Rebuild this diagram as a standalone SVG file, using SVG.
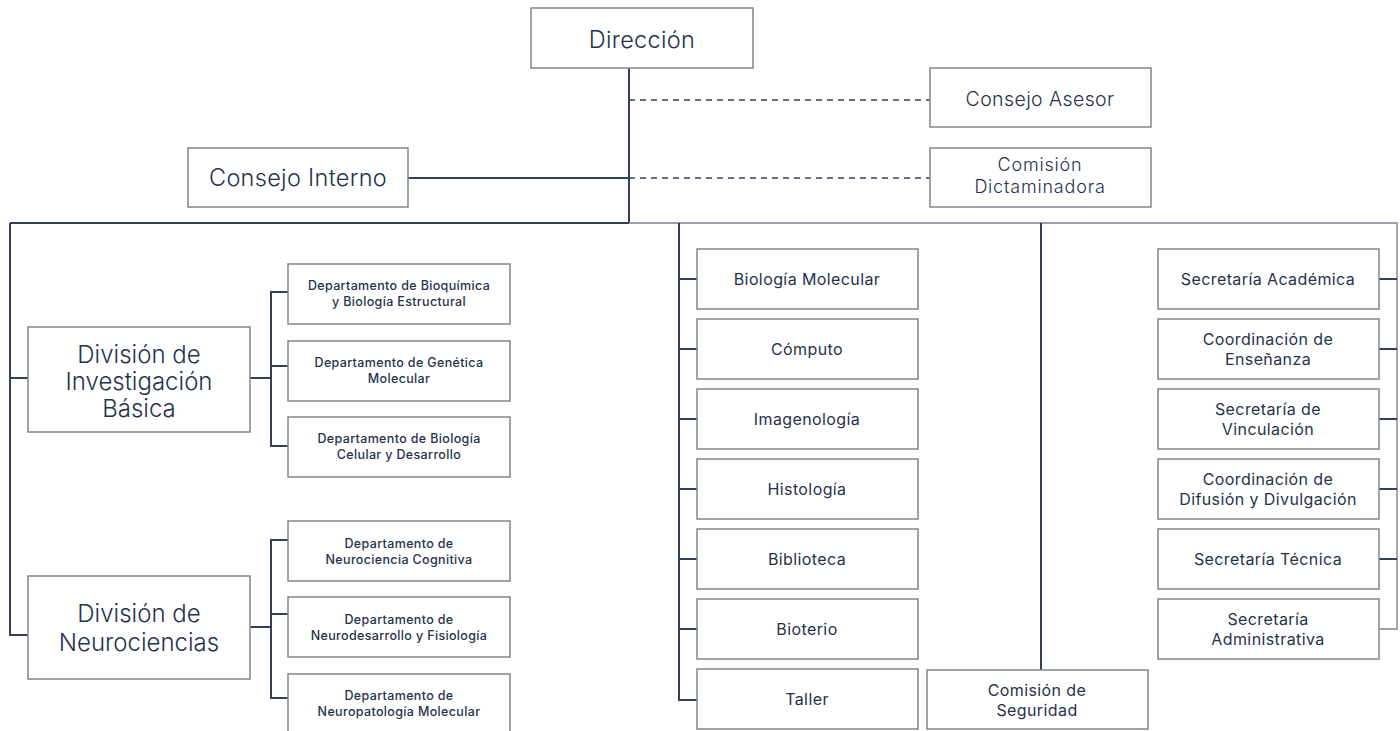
<svg xmlns="http://www.w3.org/2000/svg" width="1400" height="731" viewBox="0 0 1400 731">
<style>
.box{fill:#ffffff;stroke:#80858f;stroke-width:1.5}
.c{fill:none;stroke:#34405a;stroke-width:2}
.cl{fill:none;stroke:#9a9ea7;stroke-width:1.8}
.d{fill:none;stroke:#34405a;stroke-width:1.5;stroke-dasharray:6 5}
text{font-family:Inter,"Open Sans","Liberation Sans",sans-serif;fill:#27324a;text-anchor:middle}
.big{font-size:23.5px;font-weight:300;letter-spacing:0.3px}
.div{font-size:24px;font-weight:300}
.mid{font-size:19.5px;font-weight:300;letter-spacing:0.4px}
.mid2{font-size:18px;font-weight:300;letter-spacing:0.8px}
.sm{font-size:12.5px;font-weight:500;letter-spacing:0.35px}
.md{font-size:16px;font-weight:400;letter-spacing:0.4px}
</style>
<rect width="1400" height="731" fill="#ffffff"/>
<g id="connectors">
<line class="c" x1="629" y1="68" x2="629" y2="223"/>
<line class="d" x1="629" y1="100" x2="930" y2="100"/>
<line class="d" x1="629" y1="178" x2="930" y2="178"/>
<line class="c" x1="408" y1="178" x2="629" y2="178"/>
<line class="c" x1="10" y1="223" x2="629" y2="223"/>
<polyline class="cl" points="629,223 1397,223 1397,629 1379,629"/>
<polyline class="c" points="10,223 10,635 28,635"/>
<line class="c" x1="10" y1="378" x2="28" y2="378"/>
<line class="c" x1="250" y1="378" x2="271" y2="378"/>
<polyline class="c" points="288,292 271,292 271,446 288,446"/>
<line class="c" x1="271" y1="366" x2="288" y2="366"/>
<line class="c" x1="250" y1="627" x2="271" y2="627"/>
<polyline class="c" points="288,540 271,540 271,698 288,698"/>
<line class="c" x1="271" y1="614" x2="288" y2="614"/>
<polyline class="c" points="679,223 679,700 697,700"/>
<line class="c" x1="679" y1="279" x2="697" y2="279"/>
<line class="c" x1="679" y1="349" x2="697" y2="349"/>
<line class="c" x1="679" y1="419" x2="697" y2="419"/>
<line class="c" x1="679" y1="489" x2="697" y2="489"/>
<line class="c" x1="679" y1="559" x2="697" y2="559"/>
<line class="c" x1="679" y1="629" x2="697" y2="629"/>
<line class="c" x1="1041" y1="223" x2="1041" y2="670"/>
<line class="c" x1="1379" y1="279" x2="1397" y2="279"/>
<line class="c" x1="1379" y1="349" x2="1397" y2="349"/>
<line class="c" x1="1379" y1="419" x2="1397" y2="419"/>
<line class="c" x1="1379" y1="489" x2="1397" y2="489"/>
<line class="c" x1="1379" y1="559" x2="1397" y2="559"/>
</g>
<g id="direccion"><rect class="box" x="531" y="8" width="222" height="60"/><text class="big" x="642" y="48">Dirección</text></g>
<g id="consejo-asesor"><rect class="box" x="930" y="68" width="221" height="59"/><text class="mid" x="1040" y="106">Consejo Asesor</text></g>
<g id="comision-dictaminadora"><rect class="box" x="930" y="148" width="221" height="59"/><text class="mid2" x="1040" y="171">Comisión</text><text class="mid2" x="1040" y="193">Dictaminadora</text></g>
<g id="consejo-interno"><rect class="box" x="188" y="148" width="220" height="59"/><text class="big" x="298" y="186">Consejo Interno</text></g>
<g id="div-investigacion"><rect class="box" x="28" y="327" width="222" height="105"/><text class="div" x="139" y="363">División de</text><text class="div" x="139" y="390">Investigación</text><text class="div" x="139" y="417">Básica</text></g>
<g id="div-neurociencias"><rect class="box" x="28" y="576" width="222" height="103"/><text class="div" x="139" y="622">División de</text><text class="div" x="139" y="651">Neurociencias</text></g>
<g id="dep-bioquimica"><rect class="box" x="288" y="264" width="222" height="60"/><text class="sm" x="399" y="290">Departamento de Bioquímica</text><text class="sm" x="399" y="306">y Biología Estructural</text></g>
<g id="dep-genetica"><rect class="box" x="288" y="341" width="222" height="60"/><text class="sm" x="399" y="367">Departamento de Genética</text><text class="sm" x="399" y="383">Molecular</text></g>
<g id="dep-celular"><rect class="box" x="288" y="417" width="222" height="60"/><text class="sm" x="399" y="443">Departamento de Biología</text><text class="sm" x="399" y="459">Celular y Desarrollo</text></g>
<g id="dep-cognitiva"><rect class="box" x="288" y="521" width="222" height="60"/><text class="sm" x="399" y="548">Departamento de</text><text class="sm" x="399" y="564">Neurociencia Cognitiva</text></g>
<g id="dep-neurodesarrollo"><rect class="box" x="288" y="597" width="222" height="60"/><text class="sm" x="399" y="624">Departamento de</text><text class="sm" x="399" y="640">Neurodesarrollo y Fisiología</text></g>
<g id="dep-neuropatologia"><rect class="box" x="288" y="674" width="222" height="62"/><text class="sm" x="399" y="700">Departamento de</text><text class="sm" x="399" y="716">Neuropatología Molecular</text></g>
<g id="biologia-molecular"><rect class="box" x="697" y="249" width="221" height="60"/><text class="md" x="807" y="285">Biología Molecular</text></g>
<g id="computo"><rect class="box" x="697" y="319" width="221" height="60"/><text class="md" x="807" y="355">Cómputo</text></g>
<g id="imagenologia"><rect class="box" x="697" y="389" width="221" height="60"/><text class="md" x="807" y="425">Imagenología</text></g>
<g id="histologia"><rect class="box" x="697" y="459" width="221" height="60"/><text class="md" x="807" y="495">Histología</text></g>
<g id="biblioteca"><rect class="box" x="697" y="529" width="221" height="60"/><text class="md" x="807" y="565">Biblioteca</text></g>
<g id="bioterio"><rect class="box" x="697" y="599" width="221" height="60"/><text class="md" x="807" y="635">Bioterio</text></g>
<g id="taller"><rect class="box" x="697" y="669" width="221" height="60"/><text class="md" x="807" y="705">Taller</text></g>
<g id="comision-seguridad"><rect class="box" x="927" y="670" width="221" height="59"/><text class="md" x="1037" y="696">Comisión de</text><text class="md" x="1037" y="716">Seguridad</text></g>
<g id="sec-academica"><rect class="box" x="1158" y="249" width="221" height="60"/><text class="md" x="1268" y="285">Secretaría Académica</text></g>
<g id="coord-ensenanza"><rect class="box" x="1158" y="319" width="221" height="60"/><text class="md" x="1268" y="344.5">Coordinación de</text><text class="md" x="1268" y="365">Enseñanza</text></g>
<g id="sec-vinculacion"><rect class="box" x="1158" y="389" width="221" height="60"/><text class="md" x="1268" y="414.5">Secretaría de</text><text class="md" x="1268" y="435">Vinculación</text></g>
<g id="coord-difusion"><rect class="box" x="1158" y="459" width="221" height="60"/><text class="md" x="1268" y="484.5">Coordinación de</text><text class="md" x="1268" y="505">Difusión y Divulgación</text></g>
<g id="sec-tecnica"><rect class="box" x="1158" y="529" width="221" height="60"/><text class="md" x="1268" y="565">Secretaría Técnica</text></g>
<g id="sec-administrativa"><rect class="box" x="1158" y="599" width="221" height="60"/><text class="md" x="1268" y="624.5">Secretaría</text><text class="md" x="1268" y="645">Administrativa</text></g>
</svg>
